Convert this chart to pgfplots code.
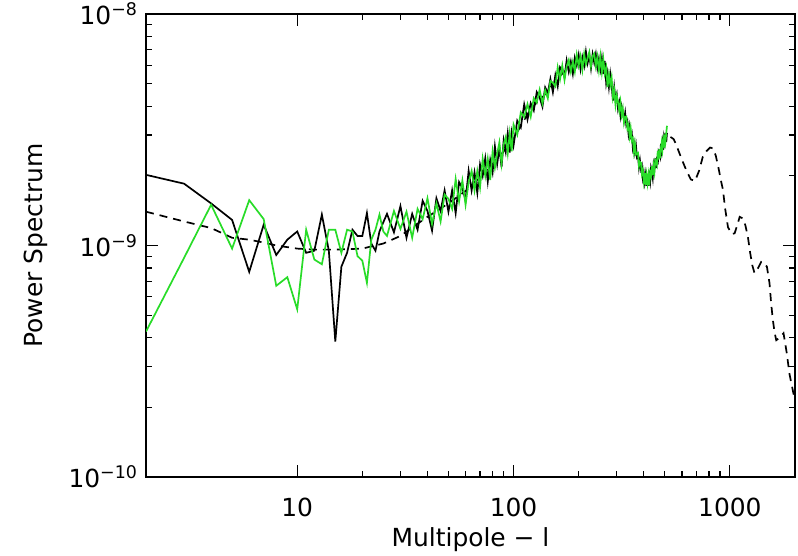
\documentclass[border=0pt]{standalone}
\usepackage{fontspec}
\setmainfont{DejaVu Sans}
\usepackage{pgfplots}
\pgfplotsset{compat=1.18}
\definecolor{grn}{RGB}{40,220,40}
\begin{document}
\fontsize{25}{29}\selectfont
\begin{tikzpicture}
\begin{loglogaxis}[
  scale only axis, width=649bp, height=463bp,
  at={(146bp,79bp)}, anchor=south west,
  xmin=2, xmax=2000, ymin=1e-10, ymax=1e-8,
  xtick={10,100,1000}, xticklabels={10,100,1000},
  ytick={1e-10,1e-9,1e-8},
  yticklabels={10\textsuperscript{−10},10\textsuperscript{−9},10\textsuperscript{−8}},
  xtick pos=both, ytick pos=both, tick align=inside,
  major tick length=12bp, minor tick length=6bp,
  axis line style={line width=1.4bp},
  every tick/.style={line width=1.2bp, black},
  tick label style={font=\fontsize{25}{29}\selectfont},
  xticklabel style={anchor=center, yshift=-30bp},
  label style={font=\fontsize{25}{29}\selectfont},
  xlabel={Multipole − l},
  ylabel={Power Spectrum},
  xlabel style={at={(axis description cs:0.5,-0.136)}, anchor=center},
  ylabel style={at={(axis description cs:-0.170,0.5)}, anchor=center},
  clip=true,
]
% theory (dashed)
\addplot[black, line width=1.7bp, dash pattern=on 8bp off 6bp] coordinates {
(2,1.40e-9)(3,1.27e-9)(4,1.19e-9)(5,1.08e-9)(6,1.06e-9)(7,1.03e-9)(8,1.00e-9)(10,0.97e-9)(12,0.96e-9)(15,0.96e-9)(20,0.97e-9)(25,1.02e-9)(30,1.10e-9)(35,1.22e-9)(40,1.33e-9)(50,1.52e-9)(60,1.72e-9)(70,1.98e-9)(80,2.25e-9)(90,2.55e-9)(100,2.90e-9)(120,3.90e-9)(140,4.50e-9)(160,5.30e-9)(180,5.85e-9)(200,6.15e-9)(220,6.32e-9)(240,6.25e-9)(260,5.85e-9)(280,5.05e-9)(300,4.26e-9)(320,3.72e-9)(340,3.22e-9)(360,2.70e-9)(380,2.31e-9)(400,2.00e-9)(412,1.90e-9)(440,2.10e-9)(460,2.34e-9)(480,2.59e-9)(500,2.84e-9)(530,2.95e-9)(550,2.88e-9)(565,2.72e-9)(600,2.35e-9)(628,2.12e-9)(660,1.93e-9)(690,1.90e-9)(720,2.10e-9)(750,2.42e-9)(778,2.55e-9)(810,2.65e-9)(834,2.63e-9)(860,2.45e-9)(887,2.15e-9)(910,1.90e-9)(929,1.74e-9)(950,1.45e-9)(980,1.20e-9)(1020,1.12e-9)(1052,1.13e-9)(1080,1.22e-9)(1110,1.33e-9)(1148,1.31e-9)(1180,1.22e-9)(1211,1.09e-9)(1242,0.925e-9)(1270,0.82e-9)(1300,0.76e-9)(1350,0.80e-9)(1396,0.85e-9)(1440,0.84e-9)(1483,0.81e-9)(1524,0.69e-9)(1552,0.56e-9)(1580,0.477e-9)(1610,0.42e-9)(1638,0.39e-9)(1700,0.40e-9)(1770,0.418e-9)(1833,0.342e-9)(1884,0.28e-9)(1966,0.23e-9)(2000,0.215e-9)
};
% black data
\addplot[black, line width=1.7bp] coordinates {
(2,2.02e-9)(3,1.85e-9)(4,1.52e-9)(5,1.29e-9)(6,0.77e-9)(7,1.23e-9)(8,0.91e-9)(9,1.06e-9)(10,1.15e-9)(11,0.93e-9)(12,0.95e-9)(13,1.36e-9)(14,0.95e-9)(15,0.385e-9)(16,0.81e-9)(17,0.93e-9)(18,1.17e-9)(19,1.10e-9)(20,1.10e-9)(21,1.38e-9)(22,1.02e-9)(23,0.95e-9)(24,1.15e-9)(25,1.26e-9)
(26,1.37e-9)(28,1.14e-9)(30,1.48e-9)(32,1.08e-9)(34,1.37e-9)(36,1.17e-9)(38,1.56e-9)(40,1.41e-9)(42,1.16e-9)(44,1.60e-9)(46,1.41e-9)(48,1.73e-9)(50,1.40e-9)(52,1.73e-9)(54,1.38e-9)(56,1.88e-9)(58,1.77e-9)(60,1.57e-9)(62,2.10e-9)(64,1.73e-9)(66,2.07e-9)(68,1.69e-9)(70,2.24e-9)(72,2.00e-9)(74,2.38e-9)(76,1.89e-9)(78,2.34e-9)(80,2.07e-9)(82,2.68e-9)(84,2.25e-9)(86,2.65e-9)(88,2.18e-9)(90,2.84e-9)(92,2.54e-9)(94,3.05e-9)(96,2.52e-9)(98,3.07e-9)(100,2.71e-9)
(104,3.46e-9)(108,3.24e-9)(112,4.07e-9)(116,3.50e-9)(120,4.12e-9)(124,3.83e-9)(128,4.60e-9)(132,4.36e-9)(136,3.98e-9)(140,4.82e-9)(144,4.56e-9)(148,5.24e-9)(152,4.60e-9)(156,5.44e-9)(160,4.87e-9)(164,5.89e-9)(168,5.71e-9)(172,5.36e-9)(176,6.30e-9)(180,5.63e-9)(184,6.23e-9)(188,5.52e-9)(192,6.48e-9)(196,6.00e-9)(200,6.66e-9)(204,5.78e-9)(208,6.50e-9)(212,5.97e-9)(216,6.88e-9)(220,6.14e-9)(224,6.66e-9)(228,5.83e-9)(232,6.70e-9)(236,6.17e-9)(240,6.71e-9)(244,5.85e-9)(248,6.40e-9)(252,5.77e-9)(256,6.45e-9)(260,5.50e-9)(264,6.27e-9)(268,5.05e-9)(272,5.54e-9)(276,4.84e-9)(280,5.50e-9)(284,4.93e-9)(288,4.23e-9)(292,4.82e-9)(296,4.27e-9)
(300,4.50e-9)(304,3.90e-9)(308,4.14e-9)(312,3.65e-9)(316,3.99e-9)(320,3.77e-9)(324,3.47e-9)(328,3.74e-9)(332,3.32e-9)(336,3.44e-9)(340,3.04e-9)(344,3.27e-9)(348,2.97e-9)(352,3.06e-9)(356,2.64e-9)(360,2.78e-9)(364,2.53e-9)(368,2.70e-9)(372,2.41e-9)(376,2.46e-9)(380,2.18e-9)(384,2.33e-9)(388,2.14e-9)(392,2.21e-9)(396,1.96e-9)(400,2.06e-9)(404,1.88e-9)(408,2.02e-9)(412,1.81e-9)(416,2.03e-9)(420,1.81e-9)(424,2.00e-9)(428,1.89e-9)(432,2.16e-9)(436,2.08e-9)(440,1.96e-9)(444,2.24e-9)(448,2.15e-9)(452,2.38e-9)(456,2.16e-9)(460,2.42e-9)(464,2.24e-9)(468,2.56e-9)(472,2.52e-9)(476,2.43e-9)(480,2.75e-9)(484,2.57e-9)(488,2.78e-9)(492,2.59e-9)(496,2.93e-9)(500,2.80e-9)(504,3.05e-9)(508,2.80e-9)(512,3.07e-9)
};
% green data
\addplot[grn, line width=1.7bp] coordinates {
(2,0.425e-9)(3,0.885e-9)(4,1.50e-9)(5,0.97e-9)(6,1.57e-9)(7,1.30e-9)(8,0.67e-9)(9,0.73e-9)(10,0.53e-9)(11,1.17e-9)(12,0.87e-9)(13,0.83e-9)(14,1.17e-9)(15,1.17e-9)(16,0.93e-9)(17,1.17e-9)(18,1.15e-9)(19,0.90e-9)(20,0.86e-9)(21,0.69e-9)(22,1.06e-9)(23,1.17e-9)(24,1.36e-9)(25,1.15e-9)
(26,1.10e-9)(28,1.41e-9)(30,1.18e-9)(32,1.40e-9)(34,1.08e-9)(36,1.44e-9)(38,1.30e-9)(40,1.60e-9)(42,1.24e-9)(44,1.52e-9)(46,1.27e-9)(48,1.66e-9)(50,1.59e-9)(52,1.44e-9)(54,1.94e-9)(56,1.55e-9)(58,1.91e-9)(60,1.50e-9)(62,1.88e-9)(64,2.10e-9)(66,1.73e-9)(68,2.10e-9)(70,1.78e-9)(72,2.37e-9)(74,2.00e-9)(76,2.37e-9)(78,1.92e-9)(80,2.55e-9)(82,2.17e-9)(84,2.49e-9)(86,2.79e-9)(88,2.26e-9)(90,2.73e-9)(92,2.94e-9)(94,2.50e-9)(96,3.05e-9)(98,2.55e-9)(100,3.33e-9)
(104,3.01e-9)(108,3.76e-9)(112,3.59e-9)(116,4.08e-9)(120,3.60e-9)(124,4.33e-9)(128,4.14e-9)(132,4.71e-9)(136,4.11e-9)(140,4.69e-9)(144,4.32e-9)(148,5.14e-9)(152,5.05e-9)(156,4.87e-9)(160,5.89e-9)(164,5.23e-9)(168,5.99e-9)(172,5.19e-9)(176,5.95e-9)(180,6.33e-9)(184,5.63e-9)(188,6.24e-9)(192,5.64e-9)(196,6.67e-9)(200,5.98e-9)(204,6.58e-9)(208,5.75e-9)(212,6.72e-9)(216,6.06e-9)(220,6.46e-9)(224,6.85e-9)(228,5.96e-9)(232,6.57e-9)(236,6.74e-9)(240,5.96e-9)(244,6.53e-9)(248,5.72e-9)(252,6.56e-9)(256,5.61e-9)(260,6.38e-9)(264,5.53e-9)(268,5.88e-9)(272,4.84e-9)(276,5.46e-9)(280,4.95e-9)(284,5.32e-9)(288,4.37e-9)(292,4.69e-9)(296,4.05e-9)
(300,4.44e-9)(304,4.16e-9)(308,3.83e-9)(312,4.17e-9)(316,3.67e-9)(320,3.90e-9)(324,3.39e-9)(328,3.59e-9)(332,3.61e-9)(336,3.20e-9)(340,3.31e-9)(344,2.97e-9)(348,3.20e-9)(352,2.84e-9)(356,2.90e-9)(360,2.55e-9)(364,2.75e-9)(368,2.47e-9)(372,2.49e-9)(376,2.51e-9)(380,2.21e-9)(384,2.30e-9)(388,2.28e-9)(392,2.04e-9)(396,2.12e-9)(400,1.90e-9)(404,2.06e-9)(408,1.83e-9)(412,2.01e-9)(416,1.86e-9)(420,2.01e-9)(424,1.82e-9)(428,2.06e-9)(432,2.00e-9)(436,2.20e-9)(440,2.01e-9)(444,2.20e-9)(448,2.08e-9)(452,2.34e-9)(456,2.31e-9)(460,2.24e-9)(464,2.56e-9)(468,2.35e-9)(472,2.61e-9)(476,2.38e-9)(480,2.64e-9)(484,2.79e-9)(488,2.60e-9)(492,2.82e-9)(496,2.65e-9)(500,3.02e-9)(504,2.83e-9)(508,3.06e-9)(512,3.29e-9)
};
\end{loglogaxis}
\pgfresetboundingbox
\useasboundingbox (0,0) rectangle (798bp,556bp);
\end{tikzpicture}
\end{document}
